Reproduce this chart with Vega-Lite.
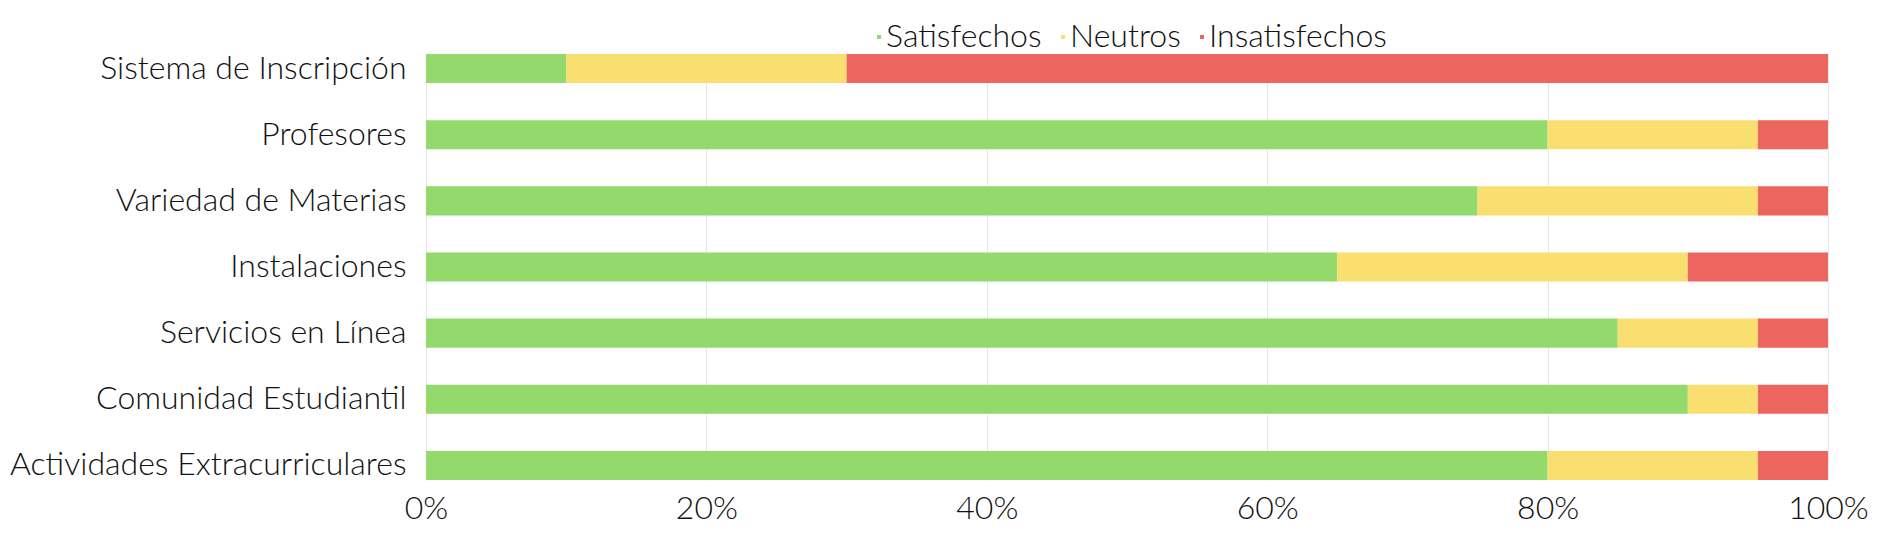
{
  "$schema": "https://vega.github.io/schema/vega-lite/v6.json",
  "width": 1402,
  "height": 426,
  "autosize": {"type": "none"},
  "padding": {"left": 426, "top": 54, "right": 67, "bottom": 73},
  "background": "white",
  "config": {
    "font": "Lato",
    "view": {"stroke": null},
    "axis": {"labelFont": "Lato", "labelFontWeight": 300, "labelColor": "#111", "gridColor": "#e6e6e6", "domain": false, "ticks": false, "labelLimit": 0}
  },
  "data": {
    "values": [
      {"area": "Sistema de Inscripción", "category": "Satisfechos", "o": 1, "value": 10},
      {"area": "Sistema de Inscripción", "category": "Neutros", "o": 2, "value": 20},
      {"area": "Sistema de Inscripción", "category": "Insatisfechos", "o": 3, "value": 70},
      {"area": "Profesores", "category": "Satisfechos", "o": 1, "value": 80},
      {"area": "Profesores", "category": "Neutros", "o": 2, "value": 15},
      {"area": "Profesores", "category": "Insatisfechos", "o": 3, "value": 5},
      {"area": "Variedad de Materias", "category": "Satisfechos", "o": 1, "value": 75},
      {"area": "Variedad de Materias", "category": "Neutros", "o": 2, "value": 20},
      {"area": "Variedad de Materias", "category": "Insatisfechos", "o": 3, "value": 5},
      {"area": "Instalaciones", "category": "Satisfechos", "o": 1, "value": 65},
      {"area": "Instalaciones", "category": "Neutros", "o": 2, "value": 25},
      {"area": "Instalaciones", "category": "Insatisfechos", "o": 3, "value": 10},
      {"area": "Servicios en Línea", "category": "Satisfechos", "o": 1, "value": 85},
      {"area": "Servicios en Línea", "category": "Neutros", "o": 2, "value": 10},
      {"area": "Servicios en Línea", "category": "Insatisfechos", "o": 3, "value": 5},
      {"area": "Comunidad Estudiantil", "category": "Satisfechos", "o": 1, "value": 90},
      {"area": "Comunidad Estudiantil", "category": "Neutros", "o": 2, "value": 5},
      {"area": "Comunidad Estudiantil", "category": "Insatisfechos", "o": 3, "value": 5},
      {"area": "Actividades Extracurriculares", "category": "Satisfechos", "o": 1, "value": 80},
      {"area": "Actividades Extracurriculares", "category": "Neutros", "o": 2, "value": 15},
      {"area": "Actividades Extracurriculares", "category": "Insatisfechos", "o": 3, "value": 5}
    ]
  },
  "mark": {"type": "bar"},
  "encoding": {
    "y": {
      "field": "area", "type": "nominal", "sort": null, "title": null,
      "scale": {"paddingInner": 0.56, "paddingOuter": 0},
      "axis": {"labelFontSize": 32, "labelPadding": 20, "grid": false}
    },
    "x": {
      "field": "value", "type": "quantitative", "stack": "normalize", "title": null,
      "scale": {"domain": [0, 1], "nice": false},
      "axis": {"values": [0, 0.2, 0.4, 0.6, 0.8, 1], "format": ".0%", "labelFontSize": 32, "labelPadding": 13, "grid": true, "labelFlush": false}
    },
    "color": {
      "field": "category", "type": "nominal", "title": null,
      "scale": {"domain": ["Satisfechos", "Neutros", "Insatisfechos"], "range": ["#94d96b", "#f9de70", "#ec655f"]},
      "legend": {
        "orient": "none", "direction": "horizontal", "legendX": 437, "legendY": -33,
        "symbolType": "square", "symbolSize": 16, "symbolStrokeWidth": 0,
        "labelFontSize": 32, "labelFont": "Lato", "labelFontWeight": 300, "labelColor": "#111", "labelLimit": 0,
        "labelOffset": -9, "columnPadding": 5
      }
    },
    "order": {"field": "o", "type": "quantitative"}
  }
}
